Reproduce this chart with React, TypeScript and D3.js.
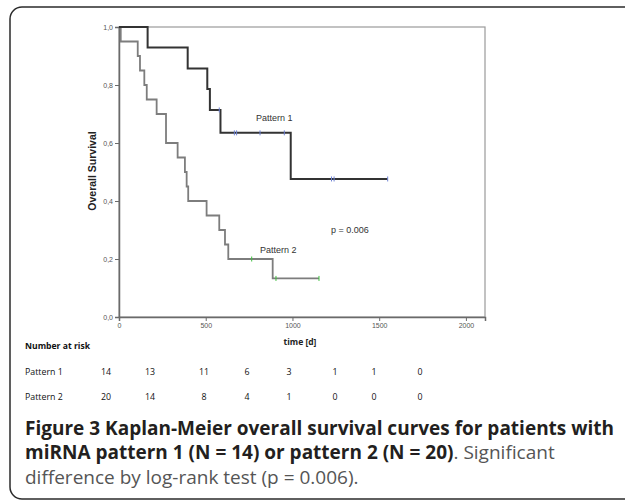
import React, { useEffect, useRef } from "react";
import * as d3 from "d3";

// Kaplan-Meier steps (time in days, survival)
const pattern1Times = [0, 165, 396, 509, 524, 585, 990];
const pattern1Surv = [1, 0.929, 0.857, 0.786, 0.714, 0.635, 0.476];
const pattern1Censored = [578, 665, 678, 813, 953, 1225, 1240, 1549];

const pattern2Times = [0, 10, 108, 121, 146, 160, 217, 271, 338, 380, 390, 399, 505, 578, 611, 630, 886];
const pattern2Surv = [1, 0.95, 0.9, 0.85, 0.8, 0.75, 0.7, 0.6, 0.55, 0.5, 0.45, 0.4, 0.35, 0.3, 0.25, 0.2, 0.133];
const pattern2Censored = [765, 905, 1153];

const xTicks = [0, 500, 1000, 1500, 2000];
const yTicks = [0, 0.2, 0.4, 0.6, 0.8, 1.0];

const riskRows = ["Pattern 1", "Pattern 2"];
const riskPattern1 = [14, 13, 11, 6, 3, 1, 1, 0];
const riskPattern2 = [20, 14, 8, 4, 1, 0, 0, 0];
const riskColumnX = [106, 150, 204, 247, 289, 335, 374, 420];

const App = () => {
  const ref = useRef<SVGSVGElement>(null);

  useEffect(() => {
    const svg = d3.select(ref.current);
    svg.selectAll("*").remove();

    const x = d3.scaleLinear().domain([0, 2110]).range([119, 485]);
    const y = d3.scaleLinear().domain([0, 1]).range([317, 27]);

    // outer rounded frame
    svg
      .append("rect")
      .attr("x", 10)
      .attr("y", 7)
      .attr("width", 640)
      .attr("height", 492)
      .attr("rx", 12)
      .attr("fill", "none")
      .attr("stroke", "#2b2b2b")
      .attr("stroke-width", 1.5);

    // plot frame (top/right)
    svg
      .append("rect")
      .attr("x", x(0))
      .attr("y", y(1))
      .attr("width", x(2110) - x(0))
      .attr("height", y(0) - y(1))
      .attr("fill", "none")
      .attr("stroke", "#9a9a9a")
      .attr("stroke-width", 1.2);

    const tickFont = "Arial, 'Liberation Sans', sans-serif";

    // y axis
    const gy = svg
      .append("g")
      .attr("transform", `translate(${x(0)},0)`)
      .call(
        d3
          .axisLeft(y)
          .tickValues(yTicks)
          .tickSize(4)
          .tickPadding(2)
          .tickFormat((d) => d3.format(".1f")(d as number).replace(".", ","))
      );
    gy.select(".domain").attr("stroke", "#6a6a6a").attr("stroke-width", 1.5);
    gy.selectAll(".tick line").attr("stroke", "#6a6a6a");
    gy.selectAll(".tick text")
      .attr("font-family", tickFont)
      .attr("font-size", 7)
      .attr("fill", "#555");

    // x axis
    const gx = svg
      .append("g")
      .attr("transform", `translate(0,${y(0)})`)
      .call(d3.axisBottom(x).tickValues(xTicks).tickSize(4).tickPadding(2).tickFormat(d3.format("d")));
    gx.select(".domain").attr("stroke", "#6a6a6a").attr("stroke-width", 1.5);
    gx.selectAll(".tick line").attr("stroke", "#6a6a6a");
    gx.selectAll(".tick text")
      .attr("font-family", tickFont)
      .attr("font-size", 7)
      .attr("fill", "#555");

    // axis titles
    svg
      .append("text")
      .attr("transform", `translate(96,171) rotate(-90)`)
      .attr("text-anchor", "middle")
      .attr("font-family", tickFont)
      .attr("font-weight", "bold")
      .attr("font-size", 10.5)
      .attr("fill", "#222")
      .text("Overall Survival");

    svg
      .append("text")
      .attr("x", 300)
      .attr("y", 345)
      .attr("text-anchor", "middle")
      .attr("font-family", "'Open Sans', sans-serif")
      .attr("font-weight", "bold")
      .attr("font-size", 8.5)
      .attr("fill", "#222")
      .text("time [d]");

    const stepPath = (times: number[], surv: number[], end: number) => {
      const pts: [number, number][] = times.map((t, i) => [t, surv[i]]);
      pts.push([end, surv[surv.length - 1]]);
      return d3
        .line<[number, number]>()
        .x((d) => x(d[0]))
        .y((d) => y(d[1]))
        .curve(d3.curveStepAfter)(pts);
    };

    const survAt = (times: number[], surv: number[], t: number) => {
      const i = d3.bisectRight(times, t) - 1;
      return surv[Math.max(0, i)];
    };

    const series = [
      { times: pattern2Times, surv: pattern2Surv, cens: pattern2Censored, color: "#7d7d7d", mark: "#3fc03f", width: 1.8 },
      { times: pattern1Times, surv: pattern1Surv, cens: pattern1Censored, color: "#333", mark: "#6f83d6", width: 2 },
    ];

    series.forEach((s) => {
      svg
        .append("path")
        .attr("d", stepPath(s.times, s.surv, d3.max(s.cens) as number))
        .attr("fill", "none")
        .attr("stroke", s.color)
        .attr("stroke-width", s.width);

      svg
        .selectAll(null)
        .data(s.cens)
        .enter()
        .append("line")
        .attr("x1", (d) => x(d))
        .attr("x2", (d) => x(d))
        .attr("y1", (d) => y(survAt(s.times, s.surv, d)) - 2.5)
        .attr("y2", (d) => y(survAt(s.times, s.surv, d)) + 2.5)
        .attr("stroke", s.mark)
        .attr("stroke-width", 1);
    });

    // curve labels
    const annot = [
      { t: "Pattern 1", x: 256, y: 121 },
      { t: "Pattern 2", x: 260, y: 253 },
      { t: "p = 0.006", x: 331, y: 233 },
    ];
    svg
      .selectAll(null)
      .data(annot)
      .enter()
      .append("text")
      .attr("x", (d) => d.x)
      .attr("y", (d) => d.y)
      .attr("font-family", tickFont)
      .attr("font-size", 9)
      .attr("fill", "#333")
      .text((d) => d.t);

    // number at risk table
    const tableFont = "'Open Sans', sans-serif";
    svg
      .append("text")
      .attr("x", 25)
      .attr("y", 349)
      .attr("font-family", tableFont)
      .attr("font-weight", "bold")
      .attr("font-size", 8.6)
      .attr("fill", "#111")
      .text("Number at risk");

    const rowY = [375, 400];
    [riskPattern1, riskPattern2].forEach((row, r) => {
      svg
        .append("text")
        .attr("x", 25)
        .attr("y", rowY[r])
        .attr("font-family", tableFont)
        .attr("font-size", 8.8)
        .attr("fill", "#111")
        .text(riskRows[r]);
      svg
        .selectAll(null)
        .data(row)
        .enter()
        .append("text")
        .attr("x", (_, i) => riskColumnX[i])
        .attr("y", rowY[r])
        .attr("text-anchor", "middle")
        .attr("font-family", tableFont)
        .attr("font-size", 8.8)
        .attr("fill", "#111")
        .text((d) => d);
    });

    // caption
    const capFont = "'Open Sans', sans-serif";
    const capSize = 19;
    svg
      .append("text")
      .attr("x", 25)
      .attr("y", 435)
      .attr("font-family", capFont)
      .attr("font-size", capSize)
      .attr("font-weight", "bold")
      .attr("fill", "#231f20")
      .text("Figure 3 Kaplan-Meier overall survival curves for patients with");

    const cap2 = svg
      .append("text")
      .attr("x", 25)
      .attr("y", 459)
      .attr("font-family", capFont)
      .attr("font-size", capSize)
      .attr("fill", "#231f20");
    cap2.append("tspan").attr("font-weight", "bold").text("miRNA pattern 1 (N = 14) or pattern 2 (N = 20)");
    cap2.append("tspan").attr("fill", "#555").text(". Significant");

    svg
      .append("text")
      .attr("x", 25)
      .attr("y", 484)
      .attr("font-family", capFont)
      .attr("font-size", capSize)
      .attr("fill", "#555")
      .text("difference by log-rank test (p = 0.006).");
  }, []);

  return (
    <svg
      ref={ref}
      width={625}
      height={501}
      style={{ position: "absolute", left: 0, top: 0, background: "#fff" }}
    />
  );
};

export default App;
